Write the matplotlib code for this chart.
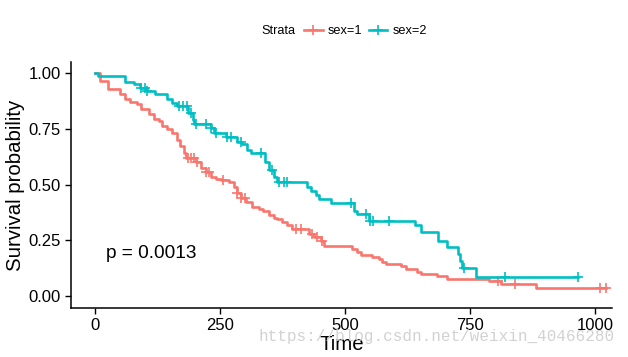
import numpy as np
import matplotlib
matplotlib.use('Agg')
import matplotlib.pyplot as plt
from matplotlib.lines import Line2D

plt.rcParams['font.family'] = ['Liberation Sans', 'DejaVu Sans']

# Kaplan-Meier steps
red_times = [0, 10, 26, 50, 60, 70, 84, 92, 108, 118, 128, 134, 144, 154, 164, 170, 178, 182, 202, 212,
             222, 232, 242, 252, 268, 278, 284, 292, 302, 314, 328, 336, 348, 358, 364, 374, 384, 394, 428, 438,
             452, 458, 514, 524, 532, 554, 568, 574, 582, 612, 622, 644, 652, 684, 704, 788, 812, 882, 1022]
red_surv = [1.0, 0.965, 0.93, 0.906, 0.884, 0.87, 0.86, 0.84, 0.817, 0.796, 0.786, 0.763, 0.75, 0.73, 0.70,
            0.674, 0.64, 0.62, 0.60, 0.576, 0.558, 0.536, 0.527, 0.52, 0.51, 0.487, 0.464, 0.44, 0.42, 0.40,
            0.39, 0.38, 0.365, 0.352, 0.344, 0.33, 0.318, 0.30, 0.277, 0.263, 0.245, 0.223, 0.21, 0.198, 0.186,
            0.174, 0.165, 0.152, 0.143, 0.134, 0.12, 0.107, 0.098, 0.089, 0.078, 0.067, 0.054, 0.036, 0.036]
red_cens = [186, 192, 198, 204, 222, 228, 256, 284, 292, 300, 402, 412, 434, 444, 454, 806, 840, 1010, 1022]

teal_times = [0, 5, 60, 78, 90, 104, 120, 144, 154, 164, 186, 196, 198, 232, 238, 262, 284, 294, 304, 312,
              340, 348, 358, 364, 424, 432, 442, 448, 472, 518, 524, 548, 640, 652, 686, 704, 726, 730, 734, 762, 965]
teal_surv = [1.0, 0.989, 0.96, 0.95, 0.933, 0.92, 0.906, 0.884, 0.866, 0.853, 0.82, 0.79, 0.77, 0.754, 0.73,
             0.714, 0.69, 0.68, 0.656, 0.643, 0.60, 0.567, 0.536, 0.513, 0.487, 0.469, 0.455, 0.433, 0.415, 0.38,
             0.366, 0.338, 0.317, 0.286, 0.246, 0.218, 0.187, 0.157, 0.124, 0.083, 0.083]
teal_cens = [92, 100, 104, 168, 176, 184, 192, 202, 222, 232, 242, 264, 272, 292, 332, 354, 368, 378, 384,
             512, 542, 550, 556, 588, 738, 820, 965]

labels = ['sex=1', 'sex=2']
colors = ['#F8766D', '#00BFC4']

fig = plt.figure(figsize=(6.28, 3.57), dpi=100)
ax = fig.add_axes([71 / 628, 1 - 308 / 357, (612 - 71) / 628, (308 - 62) / 357])

for t, s, c, col in [(red_times, red_surv, red_cens, colors[0]), (teal_times, teal_surv, teal_cens, colors[1])]:
    t = np.array(t)
    s = np.array(s)
    ax.step(t, s, where='post', color=col, linewidth=1.9)
    idx = np.searchsorted(t, c, side='right') - 1
    ax.plot(c, s[idx], linestyle='none', marker='+', color=col, markersize=7, markeredgewidth=1.2)

ax.text(22, 0.19, 'p = 0.0013', fontsize=13.7, ha='left', va='center')

ax.set_xlim(-48, 1034)
ax.set_ylim(-0.054, 1.05)
ax.set_xticks([0, 250, 500, 750, 1000])
ax.set_yticks([0, 0.25, 0.5, 0.75, 1.0])
ax.set_yticklabels(['0.00', '0.25', '0.50', '0.75', '1.00'])
ax.tick_params(labelsize=12, length=4, width=1, colors='black')
ax.set_xlabel('Time', fontsize=14.7, labelpad=1)
ax.set_ylabel('Survival probability', fontsize=14.7, labelpad=2)
ax.spines['top'].set_visible(False)
ax.spines['right'].set_visible(False)
ax.spines['left'].set_linewidth(1.1)
ax.spines['bottom'].set_linewidth(1.1)

# legend on top
fig.text(261 / 628, 1 - 31 / 357, 'Strata', fontsize=9.2, ha='left', va='center')
handles = [Line2D([], [], color=col, linewidth=1.9, marker='+', markersize=7, markeredgewidth=1.2) for col in colors]
fig.legend(handles, labels, ncol=2, loc='center left', bbox_to_anchor=(304 / 628, 1 - 31 / 357),
           frameon=False, fontsize=9.2, handlelength=1.45, handletextpad=0.4, columnspacing=0.5,
           borderpad=0, borderaxespad=0)

fig.text(615 / 628, 1 - 337 / 357, 'https://blog.csdn.net/weixin_40466280', fontsize=11.5,
         family=['Liberation Mono', 'DejaVu Sans Mono'], color='#d2d2d2', ha='right', va='center')

fig.savefig('out.png', dpi=100)
